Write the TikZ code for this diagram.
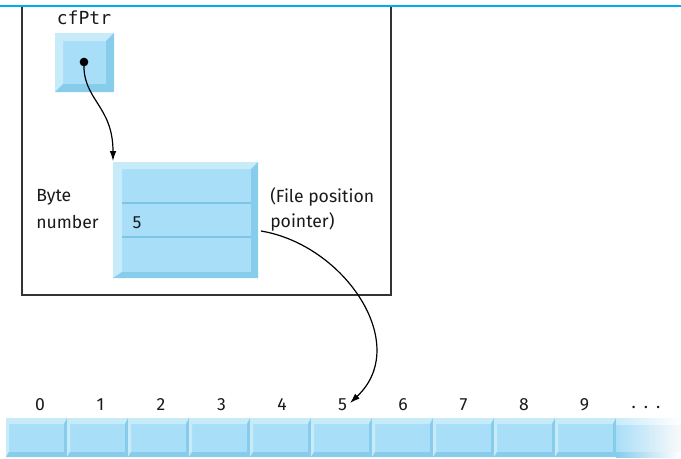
\documentclass[tikz,border=0pt]{standalone}
\usepackage{fontspec}
\setmainfont{Fira Sans}
\newfontfamily\monofont{DejaVu Sans Mono}
\usetikzlibrary{arrows.meta}
\definecolor{bvlight}{HTML}{C8EBFA}
\definecolor{bvface}{HTML}{A9DEF8}
\definecolor{bvdark}{HTML}{88CCEB}
\definecolor{bvline}{HTML}{7EC6E6}
\definecolor{topblue}{HTML}{00AEEF}
\definecolor{frame}{HTML}{333333}
% bevelled box: #1,#2 outer corner; #3,#4 outer corner; #5 left, #6 top, #7 right, #8 bottom bevel
\newcommand{\bevbox}[8]{%
  \fill[bvface] (#1,#2) rectangle (#3,#4);
  \fill[bvlight] (#1,#2) -- (#3,#2) -- (#3-#7,#2+#6) -- (#1+#5,#2+#6) -- cycle;
  \fill[bvlight] (#1,#2) -- (#1+#5,#2+#6) -- (#1+#5,#4-#8) -- (#1,#4) -- cycle;
  \fill[bvdark] (#3,#2) -- (#3,#4) -- (#3-#7,#4-#8) -- (#3-#7,#2+#6) -- cycle;
  \fill[bvdark] (#1,#4) -- (#3,#4) -- (#3-#7,#4-#8) -- (#1+#5,#4-#8) -- cycle;
}
\begin{document}
\begin{tikzpicture}[x=0.75pt,y=-0.75pt,
  lbl/.style={font=\fontsize{13.2pt}{15pt}\selectfont, inner sep=0pt, text=black!90},
  num/.style={font=\fontsize{13.2pt}{15pt}\selectfont, inner sep=0pt, text=black!90},
  ptr/.style={draw=black, line width=0.9pt, -{Latex[length=7.5pt,width=5pt]}}]
\useasboundingbox (0,0) rectangle (681,458);
% frame
\draw[frame, line width=1pt] (22,6) -- (22,295) -- (391,295) -- (391,6);
\draw[topblue, line width=1.3pt] (0,6) -- (681,6);
% cfPtr
\node[font=\monofont\fontsize{13.5pt}{15pt}\selectfont, inner sep=0pt, text=black!90] (cfptrlabel) at (84,18) {cfPtr};
\bevbox{55}{33}{114}{92}{8}{8}{8}{8}
\node[fill=black, circle, inner sep=0pt, minimum size=6.5pt] (dot) at (84,62) {};
% big box
\bevbox{113}{162}{258}{278}{9}{7}{7}{6}
\draw[bvline, line width=1.2pt] (122,203) -- (251,203);
\draw[bvline, line width=1.2pt] (122,237) -- (251,237);
\node[num] (five) at (137,223) {5};
\coordinate (bigtop) at (113,161);
\coordinate (bigright) at (261,231);
% labels
\node[lbl, anchor=west] (byte) at (36,197) {Byte};
\node[lbl, anchor=west] (number) at (36,222) {number};
\node[lbl, anchor=west] (filepos) at (270,197) {(File position};
\node[lbl, anchor=west] (pointer) at (270,222) {pointer)};
% strip
\foreach \i in {0,...,9} {
  \pgfmathsetmacro{\xa}{6+61*\i}
  \pgfmathsetmacro{\xb}{67+61*\i}
  \bevbox{\xa}{418}{\xb}{457}{3}{6}{3}{5}
}
\shade[left color=bvface, right color=white!96!gray] (616,424) rectangle (681,452);
\shade[left color=bvlight, right color=white] (616,418) rectangle (681,424);
\shade[left color=bvdark, right color=white] (616,452) rectangle (681,457);
\foreach \i in {0,...,9} {
  \node[num] (n\i) at ({40+60.5*\i},405) {\i};
}
\node[num] (dots) at (646,407) {.\hspace{6pt}.\hspace{6pt}.};
\coordinate (cellfive) at (350,403);
% arrows
\draw[ptr] (dot.center) .. controls (82,100) and (113,105) .. (bigtop);
\draw[ptr] (bigright) .. controls (345,245) and (412,345) .. (cellfive);
\end{tikzpicture}
\end{document}
